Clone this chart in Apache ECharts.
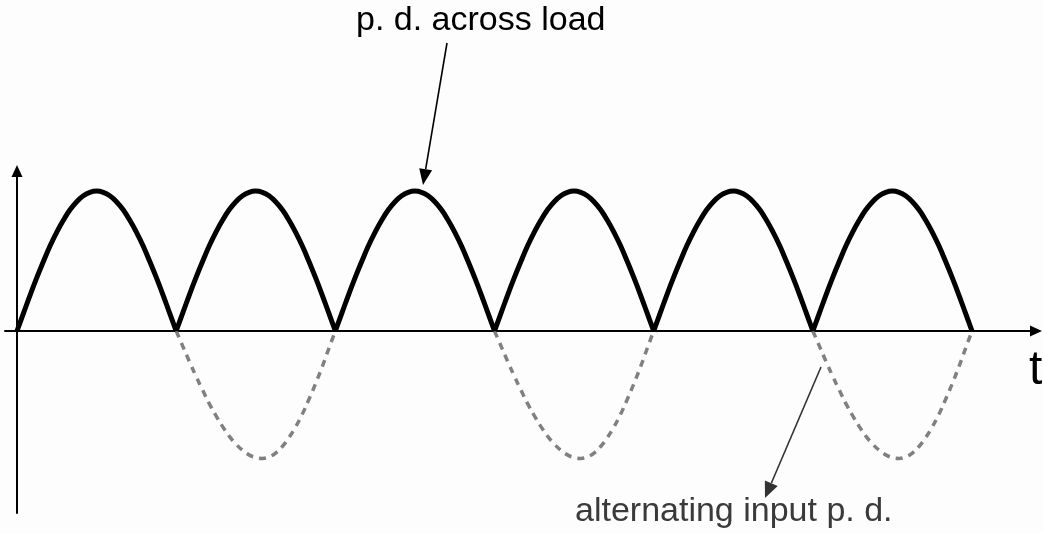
<!DOCTYPE html>
<html>
<head>
<meta charset="utf-8">
<script src="https://cdn.jsdelivr.net/npm/echarts@6/dist/echarts.min.js"></script>
<style>
    * {
        margin: 0;
        padding: 0;
    }
    body {
        background-color: #fdfdfd;
    }
</style>
</head>
<body>
<div id="main" style="width:1043px;height:533px;"></div>
<script>
// time in half-periods
var time = [
    0, 0.042, 0.083, 0.125, 0.167, 0.208, 0.25, 0.292, 0.333, 0.375, 0.417, 0.458,
    0.5, 0.542, 0.583, 0.625, 0.667, 0.708, 0.75, 0.792, 0.833, 0.875, 0.917, 0.958,
    1, 1.042, 1.083, 1.125, 1.167, 1.208, 1.25, 1.292, 1.333, 1.375, 1.417, 1.458,
    1.5, 1.542, 1.583, 1.625, 1.667, 1.708, 1.75, 1.792, 1.833, 1.875, 1.917, 1.958,
    2, 2.042, 2.083, 2.125, 2.167, 2.208, 2.25, 2.292, 2.333, 2.375, 2.417, 2.458,
    2.5, 2.542, 2.583, 2.625, 2.667, 2.708, 2.75, 2.792, 2.833, 2.875, 2.917, 2.958,
    3, 3.042, 3.083, 3.125, 3.167, 3.208, 3.25, 3.292, 3.333, 3.375, 3.417, 3.458,
    3.5, 3.542, 3.583, 3.625, 3.667, 3.708, 3.75, 3.792, 3.833, 3.875, 3.917, 3.958,
    4, 4.042, 4.083, 4.125, 4.167, 4.208, 4.25, 4.292, 4.333, 4.375, 4.417, 4.458,
    4.5, 4.542, 4.583, 4.625, 4.667, 4.708, 4.75, 4.792, 4.833, 4.875, 4.917, 4.958,
    5, 5.042, 5.083, 5.125, 5.167, 5.208, 5.25, 5.292, 5.333, 5.375, 5.417, 5.458,
    5.5, 5.542, 5.583, 5.625, 5.667, 5.708, 5.75, 5.792, 5.833, 5.875, 5.917, 5.958,
    6
];
// p. d. across load (solid)
var loadPd = [
    0, 0.131, 0.259, 0.383, 0.5, 0.609, 0.707, 0.793, 0.866, 0.924, 0.966, 0.991,
    1, 0.991, 0.966, 0.924, 0.866, 0.793, 0.707, 0.609, 0.5, 0.383, 0.259, 0.131,
    0, 0.131, 0.259, 0.383, 0.5, 0.609, 0.707, 0.793, 0.866, 0.924, 0.966, 0.991,
    1, 0.991, 0.966, 0.924, 0.866, 0.793, 0.707, 0.609, 0.5, 0.383, 0.259, 0.131,
    0, 0.131, 0.259, 0.383, 0.5, 0.609, 0.707, 0.793, 0.866, 0.924, 0.966, 0.991,
    1, 0.991, 0.966, 0.924, 0.866, 0.793, 0.707, 0.609, 0.5, 0.383, 0.259, 0.131,
    0, 0.131, 0.259, 0.383, 0.5, 0.609, 0.707, 0.793, 0.866, 0.924, 0.966, 0.991,
    1, 0.991, 0.966, 0.924, 0.866, 0.793, 0.707, 0.609, 0.5, 0.383, 0.259, 0.131,
    0, 0.131, 0.259, 0.383, 0.5, 0.609, 0.707, 0.793, 0.866, 0.924, 0.966, 0.991,
    1, 0.991, 0.966, 0.924, 0.866, 0.793, 0.707, 0.609, 0.5, 0.383, 0.259, 0.131,
    0, 0.131, 0.259, 0.383, 0.5, 0.609, 0.707, 0.793, 0.866, 0.924, 0.966, 0.991,
    1, 0.991, 0.966, 0.924, 0.866, 0.793, 0.707, 0.609, 0.5, 0.383, 0.259, 0.131,
    0
];
// alternating input p. d., only the negative halves are drawn (dashed)
var inputPd = [
    null, null, null, null, null, null, null, null, null, null, null, null,
    null, null, null, null, null, null, null, null, null, null, null, null,
    0, -0.11, -0.218, -0.324, -0.424, -0.519, -0.605, -0.683, -0.751, -0.807, -0.852, -0.885,
    -0.904, -0.91, -0.9, -0.872, -0.825, -0.763, -0.686, -0.595, -0.491, -0.378, -0.257, -0.129,
    0, null, null, null, null, null, null, null, null, null, null, null,
    null, null, null, null, null, null, null, null, null, null, null, null,
    0, -0.11, -0.218, -0.324, -0.424, -0.519, -0.605, -0.683, -0.751, -0.807, -0.852, -0.885,
    -0.904, -0.91, -0.9, -0.872, -0.825, -0.763, -0.686, -0.595, -0.491, -0.378, -0.257, -0.129,
    0, null, null, null, null, null, null, null, null, null, null, null,
    null, null, null, null, null, null, null, null, null, null, null, null,
    0, -0.11, -0.218, -0.324, -0.424, -0.519, -0.605, -0.683, -0.751, -0.807, -0.852, -0.885,
    -0.904, -0.91, -0.9, -0.872, -0.825, -0.763, -0.686, -0.595, -0.491, -0.378, -0.257, -0.129,
    0
];
var loadLabel = 'p. d. across load';
var inputLabel = 'alternating input p. d.';
var timeLabel = 't';

var font = '"Liberation Sans", Arial, sans-serif';

// line with a filled triangle head, pixel coords
function arrow(x1, y1, x2, y2, color, len, half) {
    var dx = x2 - x1, dy = y2 - y1;
    var d = Math.sqrt(dx * dx + dy * dy);
    var ux = dx / d, uy = dy / d;
    var bx = x2 - ux * len, by = y2 - uy * len;
    return [
        {
            type: 'line',
            shape: {x1: x1, y1: y1, x2: bx, y2: by},
            style: {stroke: color, lineWidth: 1.6}
        },
        {
            type: 'polygon',
            shape: {points: [[x2, y2], [bx - uy * half, by + ux * half], [bx + uy * half, by - ux * half]]},
            style: {fill: color}
        }
    ];
}

// break the solid line at every cusp so each arch is smoothed on its own
var loadData = [];
time.forEach(function (t, i) {
    loadData.push([t, loadPd[i]]);
    if (loadPd[i] === 0 && i > 0 && i < time.length - 1) {
        loadData.push([t, '-']);
        loadData.push([t, loadPd[i]]);
    }
});
var inputData = time.map(function (t, i) { return [t, inputPd[i] == null ? '-' : inputPd[i]]; });

var chart = echarts.init(document.getElementById('main'));
chart.setOption({
    backgroundColor: '#fdfdfd',
    animation: false,
    grid: {
        left: 5,
        right: 7,
        top: 171,
        bottom: 20
    },
    xAxis: {
        type: 'value',
        min: -0.0754,
        max: 6.402,
        axisLine: {
            onZero: true,
            symbol: ['none', 'triangle'],
            symbolSize: [11, 12],
            lineStyle: {color: '#000', width: 2}
        },
        axisTick: {show: false},
        axisLabel: {show: false},
        splitLine: {show: false}
    },
    yAxis: {
        type: 'value',
        min: -1.3,
        max: 1.143,
        axisLine: {
            show: true,
            onZero: true,
            symbol: ['none', 'triangle'],
            symbolSize: [11, 12],
            lineStyle: {color: '#000', width: 2}
        },
        axisTick: {show: false},
        axisLabel: {show: false},
        splitLine: {show: false}
    },
    series: [
        {
            name: inputLabel,
            type: 'line',
            data: inputData,
            showSymbol: false,
            connectNulls: false,
            smooth: 0.4,
            z: 1,
            lineStyle: {color: '#808080', width: 3.5, type: [7, 6]}
        },
        {
            name: loadLabel,
            type: 'line',
            data: loadData,
            showSymbol: false,
            connectNulls: false,
            smooth: 0.4,
            z: 3,
            lineStyle: {color: '#000', width: 5}
        }
    ],
    graphic: [
        {
            type: 'text',
            left: 356,
            top: 4,
            style: {text: loadLabel, fill: '#000', font: '34px ' + font}
        },
        {
            type: 'text',
            left: 575,
            top: 495,
            style: {text: inputLabel, fill: '#3a3a3a', font: '34px ' + font}
        },
        {
            type: 'text',
            left: 1029,
            top: 347,
            style: {text: timeLabel, fill: '#000', font: '48px ' + font}
        }
    ].concat(arrow(447, 43, 423, 185, '#000', 16, 6.5))
     .concat(arrow(821, 367, 765, 498, '#333', 16, 7))
});
</script>
</body>
</html>
